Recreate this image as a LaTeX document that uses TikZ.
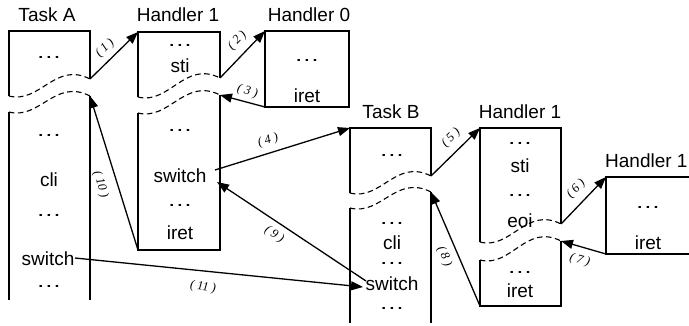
\documentclass[tikz,border=0pt]{standalone}
\usepackage{fontspec}
\setmainfont{Liberation Sans}
\newfontfamily\lblfont{Liberation Serif}
\usetikzlibrary{arrows.meta}
\newcommand\dd{\scalebox{1.35}[1]{…}}
\newcommand\lbl[1]{(\hspace{3bp}#1\hspace{3bp})}

\begin{document}
\begin{tikzpicture}[x=1bp,y=-1bp,
  box/.style={line width=1.3bp},
  cut/.style={line width=1.1bp, dash pattern=on 5.5bp off 3.5bp},
  wave/.style={to path={.. controls +(31,8) and +(-35,-18) .. (\tikztotarget)}},
  txt/.style={font=\fontsize{19bp}{22bp}\selectfont, inner sep=0pt, anchor=base},
  flow/.style={line width=1.3bp, -{Triangle[length=12bp,width=9bp]}},
  num/.style={font=\fontsize{12.5bp}{14bp}\selectfont\lblfont\itshape, inner sep=0pt, sloped},
]
\useasboundingbox (0,0) rectangle (689,325);
\clip (0,0) rectangle (689,325);

% ---------- Task A ----------
\coordinate (A-nw) at (9,31);   \coordinate (A-ne) at (90,31);
\coordinate (A-c1l) at (9,96);  \coordinate (A-c1r) at (90,79);
\coordinate (A-c2l) at (9,112); \coordinate (A-c2r) at (90,96);
\coordinate (A-sw) at (9,300);  \coordinate (A-se) at (90,300);
\draw[box] (A-c1l) -- (A-nw) -- (A-ne) -- (A-c1r);
\draw[box] (A-c2l) -- (A-sw);
\draw[box] (A-c2r) -- (A-se);
\draw[cut] (A-c1l) to[wave] (A-c1r);
\draw[cut] (A-c2l) to[wave] (A-c2r);
\node[txt] (A-title) at (47,21) {Task A};
\node[txt] (A-t1) at (49,58.5) {\dd};
\node[txt] (A-t2) at (49,136.5) {\dd};
\node[txt] (A-t3) at (49,186) {cli};
\node[txt] (A-t4) at (49,216.5) {\dd};
\node[txt] (A-t5) at (48,265) {switch};
\node[txt] (A-t6) at (49,287.5) {\dd};

% ---------- Handler 1 (first level) ----------
\coordinate (H1-nw) at (138,32);  \coordinate (H1-ne) at (220,32);
\coordinate (H1-c1l) at (138,97); \coordinate (H1-c1r) at (220,78);
\coordinate (H1-c2l) at (138,113);\coordinate (H1-c2r) at (220,95);
\coordinate (H1-sw) at (138,250); \coordinate (H1-se) at (220,250);
\draw[box] (H1-c1l) -- (H1-nw) -- (H1-ne) -- (H1-c1r);
\draw[box] (H1-c2l) -- (H1-sw) -- (H1-se) -- (H1-c2r);
\draw[cut] (H1-c1l) to[wave] (H1-c1r);
\draw[cut] (H1-c2l) to[wave] (H1-c2r);
\node[txt] (H1-title) at (178,21) {Handler 1};
\node[txt] (H1-t1) at (180,46.5) {\dd};
\node[txt] (H1-t2) at (180,72) {sti};
\node[txt] (H1-t3) at (180,131.5) {\dd};
\node[txt] (H1-t4) at (180,182) {switch};
\node[txt] (H1-t5) at (180,206.5) {\dd};
\node[txt] (H1-t6) at (180,239) {iret};

% ---------- Handler 0 ----------
\coordinate (H0-nw) at (265,31);  \coordinate (H0-se) at (349,107);
\coordinate (H0-sw) at (265,107);
\draw[box] (H0-nw) rectangle (H0-se);
\node[txt] (H0-title) at (309,21.5) {Handler 0};
\node[txt] (H0-t1) at (307,61.5) {\dd};
\node[txt] (H0-t2) at (307,102) {iret};

% ---------- Task B ----------
\coordinate (B-nw) at (350,128);  \coordinate (B-ne) at (431,128);
\coordinate (B-c1l) at (350,193); \coordinate (B-c1r) at (431,176);
\coordinate (B-c2l) at (350,208); \coordinate (B-c2r) at (431,192);
\coordinate (B-sw) at (350,323);  \coordinate (B-se) at (431,323);
\draw[box] (B-c1l) -- (B-nw) -- (B-ne) -- (B-c1r);
\draw[box] (B-c2l) -- (B-sw);
\draw[box] (B-c2r) -- (B-se);
\draw[cut] (B-c1l) to[wave] (B-c1r);
\draw[cut] (B-c2l) to[wave] (B-c2r);
\node[txt] (B-title) at (391,118) {Task B};
\node[txt] (B-t1) at (392,156.5) {\dd};
\node[txt] (B-t2) at (392,224.5) {\dd};
\node[txt] (B-t3) at (392,249) {cli};
\node[txt] (B-t4) at (392,264.5) {\dd};
\node[txt] (B-t5) at (392,290) {switch};
\node[txt] (B-t6) at (392,309.5) {\dd};

% ---------- Handler 1 (second level) ----------
\coordinate (P-nw) at (480,128);  \coordinate (P-ne) at (561,128);
\coordinate (P-c1l) at (480,242); \coordinate (P-c1r) at (561,224);
\coordinate (P-c2l) at (480,260); \coordinate (P-c2r) at (561,241);
\coordinate (P-sw) at (480,306);  \coordinate (P-se) at (561,306);
\draw[box] (P-c1l) -- (P-nw) -- (P-ne) -- (P-c1r);
\draw[box] (P-c2l) -- (P-sw) -- (P-se) -- (P-c2r);
\draw[cut] (P-c1l) to[wave] (P-c1r);
\draw[cut] (P-c2l) to[wave] (P-c2r);
\node[txt] (P-title) at (520,118) {Handler 1};
\node[txt] (P-t1) at (520,144.5) {\dd};
\node[txt] (P-t2) at (520,172) {sti};
\node[txt] (P-t3) at (520,196.5) {\dd};
\node[txt] (P-t4) at (520,227) {eoi};
\node[txt] (P-t5) at (520,273.5) {\dd};
\node[txt] (P-t6) at (520,297) {iret};

% ---------- Handler 1 (nested) ----------
\coordinate (Q-nw) at (606,177);  \coordinate (Q-ne) at (700,177);
\coordinate (Q-sw) at (606,254);  \coordinate (Q-se) at (700,254);
\draw[box] (Q-ne) -- (Q-nw) -- (Q-sw) -- (Q-se);
\node[txt, anchor=base west] (Q-title) at (605,167) {Handler 1};
\node[txt] (Q-t1) at (648,208.5) {\dd};
\node[txt] (Q-t2) at (648,249) {iret};

% ---------- control flow ----------
\coordinate (s4) at (215,170);
\coordinate (s9) at (366,281);  \coordinate (t9) at (217,182);
\coordinate (s11) at (75,258);  \coordinate (t11) at (363,287);

\draw[flow] (A-c1r) -- node[num, pos=.48, above=5bp] {\lbl{1}} (H1-nw);
\draw[flow] (H1-c1r) -- node[num, pos=.6, above=7bp] {\lbl{2}} (H0-nw);
\draw[flow] (H0-sw) -- node[num, pos=.45, above=4bp] {\lbl{3}} (H1-c2r);
\draw[flow] (s4) -- node[num, pos=.42, above=6bp] {\lbl{4}} (B-nw);
\draw[flow] (B-c1r) -- node[num, pos=.6, above=7bp] {\lbl{5}} (P-nw);
\draw[flow] (P-c1r) -- node[num, pos=.55, above=7bp] {\lbl{6}} (Q-nw);
\draw[flow] (Q-sw) -- node[num, pos=.5, below=7bp] {\lbl{7}} (P-c2r);
\draw[flow] (P-sw) -- node[num, pos=.48, below=7bp] {\lbl{8}} (B-c2r);
\draw[flow] (s9) -- node[num, pos=.57, below=6bp] {\lbl{9}} (t9);
\draw[flow] (H1-sw) -- node[num, pos=.455, below=10bp] {\lbl{10}} (A-c2r);
\draw[flow] (s11) -- node[num, pos=.45, below=10bp] {\lbl{11}} (t11);
\end{tikzpicture}
\end{document}
